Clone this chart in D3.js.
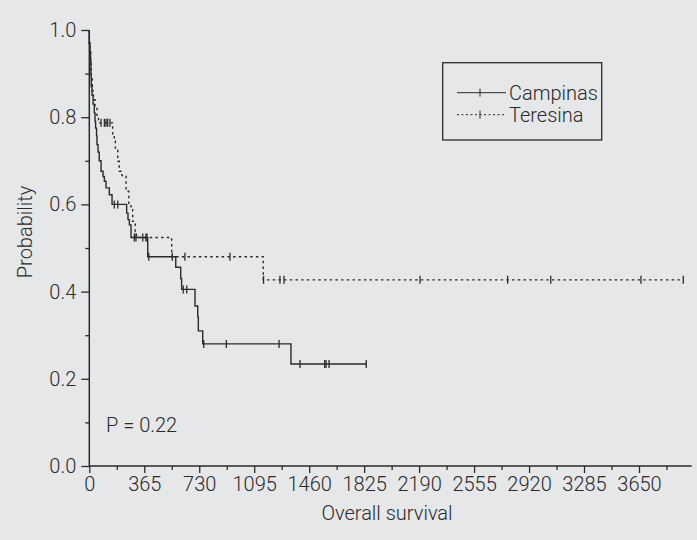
<!DOCTYPE html>
<html>
<head>
<meta charset="utf-8">
<script src="https://cdn.jsdelivr.net/npm/d3@7"></script>
<style>
  html, body { margin: 0; padding: 0; background: #e6e7e8; }
  svg { display: block; }
  text { font-family: Roboto, "Liberation Sans", Arial, sans-serif; font-weight: 300; fill: #2a2a2a; }
</style>
</head>
<body>
<svg id="chart" width="697" height="540"></svg>
<script>
// ---- data ----
const seriesNames = ["Campinas", "Teresina"];

// Campinas: event times (days) and survival after each event
const campinasTimes = [0, 0, 5, 8, 11, 13, 18, 25, 33, 38, 42, 48, 51, 58, 66, 78, 91, 100, 111, 133, 151,
  248, 257, 266, 277, 388, 574, 607, 613, 702, 720, 724, 753, 1339];
const campinasSurv = [1.0, 0.97, 0.95, 0.93, 0.90, 0.87, 0.85, 0.83, 0.81, 0.79, 0.775, 0.757, 0.737, 0.72, 0.70, 0.676, 0.664, 0.653, 0.638, 0.622, 0.60,
  0.58, 0.565, 0.553, 0.524, 0.48, 0.456, 0.43, 0.405, 0.367, 0.342, 0.31, 0.28, 0.234];
const campinasCensored = [166, 189, 299, 310, 355, 376, 383, 395, 551, 624, 647, 760, 910, 1260, 1399, 1563, 1572, 1592, 1839];

// Teresina
const teresinaTimes = [0, 0, 5, 9, 13, 20, 27, 38, 51, 61, 155, 166, 173, 189, 199, 217, 244, 262, 277, 288, 305, 313,
  547, 1155];
const teresinaSurv = [1.0, 0.97, 0.95, 0.92, 0.89, 0.86, 0.84, 0.82, 0.80, 0.787, 0.76, 0.745, 0.729, 0.699, 0.676, 0.666, 0.63, 0.60, 0.592, 0.561, 0.538, 0.524,
  0.48, 0.427];
const teresinaCensored = [78, 100, 111, 122, 137, 635, 934, 1157, 1266, 1293, 2196, 2778, 3064, 3663, 3944];

const xMajorTicks = [0, 365, 730, 1095, 1460, 1825, 2190, 2555, 2920, 3285, 3650];
const xMinorTicks = [182.5, 547.5, 912.5, 1277.5, 1642.5, 2007.5, 2372.5, 2737.5, 3102.5, 3467.5, 3832.5];
const yMajorTicks = [0, 0.2, 0.4, 0.6, 0.8, 1.0];
const yMinorTicks = [0.1, 0.3, 0.5, 0.7, 0.9];

const xLabel = "Overall survival";
const yLabel = "Probability";
const pText = "P = 0.22";

// ---- layout ----
const svg = d3.select("#chart");
const x = d3.scaleLinear().domain([0, 4000]).range([89.3, 691.7]);
const y = d3.scaleLinear().domain([0, 1]).range([466, 30]);
const ink = "#2a2a2a";
const fontFam = 'Roboto, "Liberation Sans", Arial, sans-serif';

// axes
const xAxis = svg.append("g").attr("transform", `translate(0,${y(0)})`)
  .call(d3.axisBottom(x).tickValues(xMajorTicks).tickSize(7).tickPadding(4).tickFormat(d3.format("d")));
const xMinor = svg.append("g").attr("transform", `translate(0,${y(0)})`)
  .call(d3.axisBottom(x).tickValues(xMinorTicks).tickSize(4).tickFormat(""));
const yAxis = svg.append("g").attr("transform", `translate(${x(0)},0)`)
  .call(d3.axisLeft(y).tickValues(yMajorTicks).tickSize(8).tickPadding(5).tickFormat(d3.format(".1f")));
const yMinor = svg.append("g").attr("transform", `translate(${x(0)},0)`)
  .call(d3.axisLeft(y).tickValues(yMinorTicks).tickSize(4).tickFormat(""));

[xAxis, xMinor, yAxis, yMinor].forEach(g => {
  g.select(".domain").attr("stroke", ink).attr("stroke-width", 1.5);
  g.selectAll(".tick line").attr("stroke", ink).attr("stroke-width", 1.3);
  g.selectAll(".tick text").style("font-size", "20px").attr("fill", ink)
    .style("font-family", fontFam).style("font-weight", 300);
});
xMinor.select(".domain").remove();
yMinor.select(".domain").remove();
xAxis.select(".domain").attr("d", `M${x(0)},0H${x(4000)}`);
yAxis.select(".domain").attr("d", `M0,${y(1)}V${y(0)}`);

// axis titles
svg.append("text").attr("x", 387).attr("y", 520).attr("text-anchor", "middle")
  .style("font-size", "20px").text(xLabel);
svg.append("text").attr("transform", "translate(32,232) rotate(-90)").attr("text-anchor", "middle")
  .style("font-size", "20px").text(yLabel);
svg.append("text").attr("x", 106).attr("y", 432).style("font-size", "20px").text(pText);

// survival curves
function makeSeries(times, surv, censored) {
  const pts = times.map((t, i) => [t, surv[i]]);
  const lastT = d3.max(censored.concat(times));
  pts.push([lastT, surv[surv.length - 1]]);
  const bis = d3.bisector(d => d).right;
  const cens = censored.map(t => {
    const i = bis(times, t) - 1;
    return [t, surv[Math.max(0, i)]];
  });
  return { pts, cens };
}
const seriesData = [
  { name: seriesNames[0], ...makeSeries(campinasTimes, campinasSurv, campinasCensored), dash: null },
  { name: seriesNames[1], ...makeSeries(teresinaTimes, teresinaSurv, teresinaCensored), dash: "2.5,3.2" }
];
const line = d3.line().x(d => x(d[0])).y(d => y(d[1])).curve(d3.curveStepAfter);

// draw Teresina first so Campinas sits on top
seriesData.slice().reverse().forEach(s => {
  svg.append("path").datum(s.pts).attr("d", line)
    .attr("fill", "none").attr("stroke", ink).attr("stroke-width", 1.4)
    .attr("stroke-dasharray", s.dash);
  svg.selectAll(null).data(s.cens).enter().append("line")
    .attr("x1", d => x(d[0])).attr("x2", d => x(d[0]))
    .attr("y1", d => y(d[1]) - 4).attr("y2", d => y(d[1]) + 4)
    .attr("stroke", ink).attr("stroke-width", 1.3);
});

// legend
const lg = svg.append("g");
lg.append("rect").attr("x", 442.7).attr("y", 62.7).attr("width", 159).attr("height", 77.3)
  .attr("fill", "none").attr("stroke", ink).attr("stroke-width", 1.3);
seriesData.forEach((s, i) => {
  const ly = 92.7 + i * 22;
  lg.append("line").attr("x1", 457).attr("x2", 506).attr("y1", ly).attr("y2", ly)
    .attr("stroke", ink).attr("stroke-width", 1).attr("stroke-dasharray", s.dash ? "2,2.5" : null);
  lg.append("line").attr("x1", 480).attr("x2", 480).attr("y1", ly - 4).attr("y2", ly + 4)
    .attr("stroke", ink).attr("stroke-width", 1);
  lg.append("text").attr("x", 509).attr("y", ly + 7).style("font-size", "20px").text(s.name);
});
</script>
</body>
</html>
